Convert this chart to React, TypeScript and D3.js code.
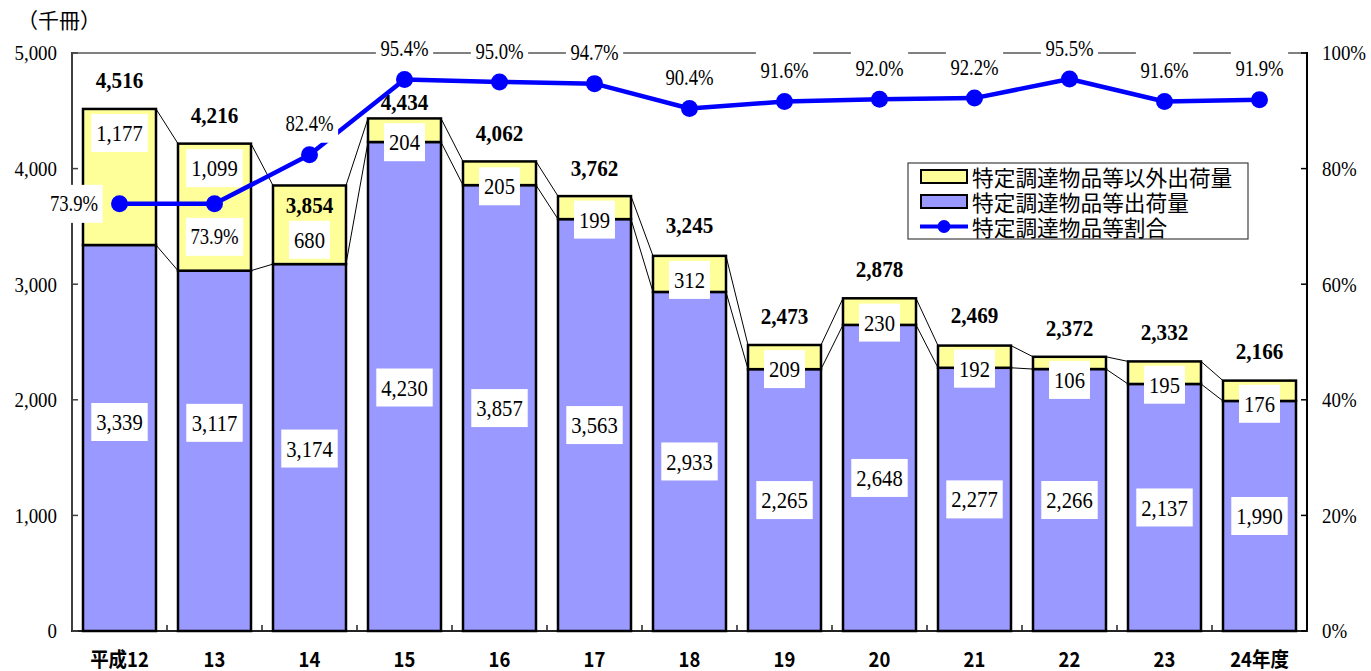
import React from 'react';
import * as d3 from 'd3';

// ---- data ----
const categories = ['平成12', '13', '14', '15', '16', '17', '18', '19', '20', '21', '22', '23', '24年度'];
const procuredShip = [3339, 3117, 3174, 4230, 3857, 3563, 2933, 2265, 2648, 2277, 2266, 2137, 1990];
const otherShip = [1177, 1099, 680, 204, 205, 199, 312, 209, 230, 192, 106, 195, 176];
const totalShip = [4516, 4216, 3854, 4434, 4062, 3762, 3245, 2473, 2878, 2469, 2372, 2332, 2166];
const procuredRatio = [73.9, 73.9, 82.4, 95.4, 95.0, 94.7, 90.4, 91.6, 92.0, 92.2, 95.5, 91.6, 91.9];
const leftTicks = [0, 1000, 2000, 3000, 4000, 5000];
const rightTicks = [0, 20, 40, 60, 80, 100];
const legendLabels = ['特定調達物品等以外出荷量', '特定調達物品等出荷量', '特定調達物品等割合'];
const unitLabel = '（千冊）';

// ---- layout (label nudges in px) ----
const totalLabelDy = [-29, -28, 20, -16, -28, -28, -31, -29, -29, -30, -29, -29, -29];
const topLabelDy = [-44, -39, 15, 12, 13, 12, 6, 12, 11, 12, 17, 12, 13];
const bottomLabelDy = [-16, -28, 1, 1, 0, 0, 0, 0, 0, 0, 0, 0, 0];
const ratioLabelPlace = ['left', 'below', 'above', 'above', 'above', 'above', 'above', 'above', 'above', 'above', 'above', 'above', 'above'];

const W = 1371, H = 671;
const L = 72, R = 1307, T = 53, B = 631;
const YELLOW = '#FFFF99';
const PURPLE = '#9999FF';
const BLUE = '#0000FF';
const SERIF = '"Liberation Serif", "Times New Roman", serif';
const GOTHIC = '"Noto Sans CJK JP", "Noto Sans", sans-serif';

const VAL = { size: 24, sx: 0.86 };
const PCT = { size: 22.5, sx: 0.83 };
const TOT = { size: 23, sx: 0.92 };
const TICK = { size: 21, sx: 0.9 };

const fmt = d3.format(',');

function textWidth(s: string, size: number) {
  let w = 0;
  for (const c of s) {
    if (c >= '0' && c <= '9') w += 0.5;
    else if (c === ',' || c === '.') w += 0.25;
    else if (c === '%') w += 0.833;
    else w += 0.5;
  }
  return w * size;
}

function Txt({ x, y, text, size, sx = 1, anchor = 'middle', family = SERIF, weight = 'normal' }: any) {
  return (
    <text
      transform={`translate(${x},${y}) scale(${sx},1)`}
      textAnchor={anchor}
      dominantBaseline="central"
      fontFamily={family}
      fontSize={size}
      fontWeight={weight}
      fill="#000"
    >
      {text}
    </text>
  );
}

function BoxLabel({ x, y, text, st = VAL, padX = 5, h = 38 }: any) {
  const w = textWidth(text, st.size) * st.sx + padX * 2;
  return (
    <g>
      <rect x={x - w / 2} y={y - h / 2} width={w} height={h} fill="#fff" />
      <Txt x={x} y={y} text={text} size={st.size} sx={st.sx} />
    </g>
  );
}

export default function App() {
  const x = d3.scaleBand<string>().domain(categories).range([L, R]).paddingInner(0.2316).paddingOuter(0.1158);
  const y = d3.scaleLinear().domain([0, 5000]).range([B, T]);
  const yr = d3.scaleLinear().domain([0, 100]).range([B, T]);
  const bw = x.bandwidth();
  const cx = (i: number) => (x(categories[i]) as number) + bw / 2;

  const line = d3.line<number>().x((_, i) => cx(i)).y((d) => yr(d));

  return (
    <svg width={W} height={H} style={{ position: 'absolute', left: 0, top: 0, background: '#fff' }}>
      {/* top border */}
      <line x1={L} x2={R} y1={T} y2={T} stroke="#808080" strokeWidth={2} />
      {/* axes */}
      <line x1={L} x2={L} y1={T - 1} y2={B} stroke="#404040" strokeWidth={2} />
      <line x1={R} x2={R} y1={T - 1} y2={B + 1} stroke="#000" strokeWidth={2} />
      <line x1={L - 1} x2={R + 1} y1={B} y2={B} stroke="#222" strokeWidth={2} />
      {leftTicks.map((t) => (
        <g key={'l' + t}>
          <line x1={L} x2={L + 6} y1={y(t)} y2={y(t)} stroke="#404040" strokeWidth={1.5} />
          <Txt x={57} y={y(t)} text={fmt(t)} size={TICK.size} sx={TICK.sx} anchor="end" />
        </g>
      ))}
      {rightTicks.map((t) => (
        <g key={'r' + t}>
          <line x1={R - 6} x2={R} y1={yr(t)} y2={yr(t)} stroke="#000" strokeWidth={1.5} />
          <Txt x={1322} y={yr(t)} text={t + '%'} size={TICK.size} sx={TICK.sx} anchor="start" />
        </g>
      ))}
      {categories.slice(1).map((c, i) => {
        const xb = (x(c) as number) - (x.step() - bw) / 2;
        return <line key={'xt' + i} x1={xb} x2={xb} y1={B} y2={B - 6} stroke="#222" strokeWidth={1.5} />;
      })}
      <Txt x={59} y={19} text={unitLabel} size={21} family={GOTHIC} />

      {/* series connector lines */}
      {categories.slice(0, -1).map((c, i) => {
        const x1 = (x(c) as number) + bw;
        const x2 = x(categories[i + 1]) as number;
        return (
          <g key={'sl' + i} stroke="#000" strokeWidth={1}>
            <line x1={x1} x2={x2} y1={y(procuredShip[i] + otherShip[i])} y2={y(procuredShip[i + 1] + otherShip[i + 1])} />
            <line x1={x1} x2={x2} y1={y(procuredShip[i])} y2={y(procuredShip[i + 1])} />
          </g>
        );
      })}

      {/* bars */}
      {categories.map((c, i) => {
        const x0 = x(c) as number;
        return (
          <g key={'b' + i} stroke="#000" strokeWidth={2.5}>
            <rect x={x0} y={y(procuredShip[i])} width={bw} height={B - y(procuredShip[i])} fill={PURPLE} />
            <rect x={x0} y={y(procuredShip[i] + otherShip[i])} width={bw} height={y(procuredShip[i]) - y(procuredShip[i] + otherShip[i])} fill={YELLOW} />
          </g>
        );
      })}

      {/* bar value labels */}
      {categories.map((c, i) => {
        const yb = (y(procuredShip[i]) + B) / 2 + bottomLabelDy[i];
        const yt = (y(procuredShip[i]) + y(procuredShip[i] + otherShip[i])) / 2 + topLabelDy[i];
        return (
          <g key={'bl' + i}>
            <BoxLabel x={cx(i)} y={yb} text={fmt(procuredShip[i])} />
            <BoxLabel x={cx(i)} y={yt} text={fmt(otherShip[i])} />
          </g>
        );
      })}
      {categories.map((c, i) => (
        <Txt key={'tl' + i} x={cx(i)} y={y(procuredShip[i] + otherShip[i]) + totalLabelDy[i]} text={fmt(totalShip[i])} size={TOT.size} sx={TOT.sx} weight="bold" />
      ))}

      {/* ratio line */}
      <path d={line(procuredRatio) as string} fill="none" stroke={BLUE} strokeWidth={4.5} strokeLinejoin="round" />
      {procuredRatio.map((d, i) => (
        <circle key={'m' + i} cx={cx(i)} cy={yr(d)} r={8.5} fill={BLUE} />
      ))}
      {procuredRatio.map((d, i) => {
        const place = ratioLabelPlace[i];
        let lx = cx(i), ly = yr(d);
        if (place === 'left') lx -= 45.5;
        else if (place === 'below') ly += 33;
        else ly -= 31;
        return <BoxLabel key={'rl' + i} x={lx} y={ly} text={d.toFixed(1) + '%'} st={PCT} padX={4.5} />;
      })}

      {/* x labels */}
      {categories.map((c, i) => (
        <Txt key={'xl' + i} x={cx(i)} y={658} text={c} size={20.5} sx={0.9} family={GOTHIC} weight="bold" />
      ))}

      {/* legend */}
      <g>
        <rect x={908} y={163} width={340} height={76} fill="#fff" stroke="#404040" strokeWidth={1.2} />
        <rect x={921} y={170} width={46} height={13} fill={YELLOW} stroke="#000" strokeWidth={2} />
        <rect x={921} y={195} width={46} height={13} fill={PURPLE} stroke="#000" strokeWidth={2} />
        <line x1={920} x2={968} y1={226.5} y2={226.5} stroke={BLUE} strokeWidth={4} />
        <circle cx={944} cy={226.5} r={6.5} fill={BLUE} />
        {legendLabels.map((s, i) => (
          <text key={'lg' + i} x={972} y={176.5 + i * 25.2} dominantBaseline="central" fontFamily={GOTHIC} fontSize={21.7}>
            {s}
          </text>
        ))}
      </g>
    </svg>
  );
}
